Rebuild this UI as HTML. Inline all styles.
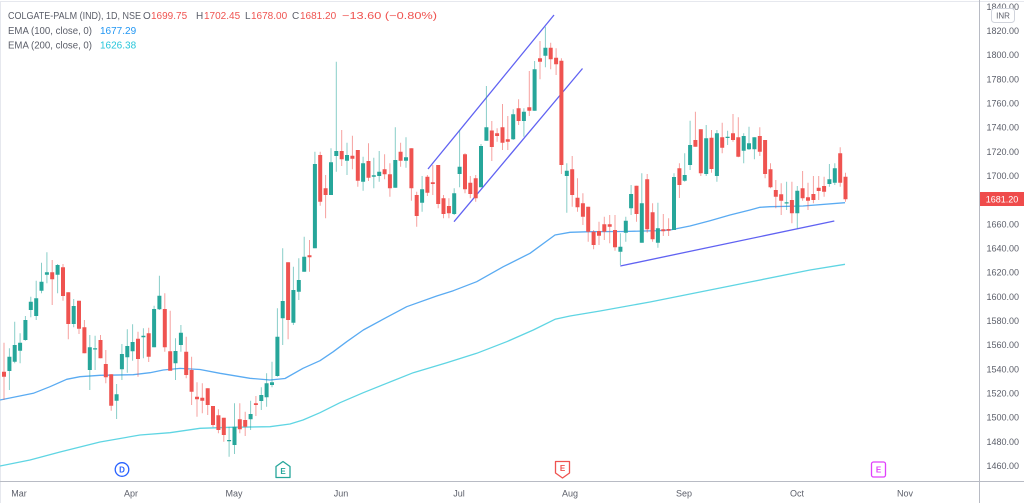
<!DOCTYPE html>
<html>
<head>
<meta charset="utf-8">
<style>
html,body{margin:0;padding:0;background:#fff;}
body{width:1024px;height:503px;overflow:hidden;}
svg{display:block;font-family:"Liberation Sans",Arial,sans-serif;}
</style>
</head>
<body>
<svg width="1024" height="503" viewBox="0 0 1024 503" xmlns="http://www.w3.org/2000/svg">
<rect x="0" y="0" width="1024" height="503" fill="#ffffff"/>
<!-- frame -->
<path d="M0.5 503V1.5H1024" fill="none" stroke="#e6e8ee" stroke-width="1"/>
<!-- axes -->
<path d="M979.5 0V503" stroke="#b8bbc4" stroke-width="1"/>
<path d="M0 481.5H1024" stroke="#b8bbc4" stroke-width="1"/>

<!-- EMA 200 -->
<polyline fill="none" stroke="#5fd5e3" stroke-width="1.3" stroke-linejoin="round" points="0,466 30,460 60,452 100,442 140,435 170,432.7 200,428.3 230,427.3 270,426.7 290,424 303,420 320,412.7 340,402.7 363.3,392.7 386.7,383.3 413.3,372.7 446.7,362.7 476.7,353.3 506.7,341.7 533.3,330 555,319.3 570,316 600,311 650,302 700,292 750,282 810,270 845,264.3"/>
<!-- EMA 100 -->
<polyline fill="none" stroke="#5aabf2" stroke-width="1.3" stroke-linejoin="round" points="0,400 33.3,393.3 50,386.7 66.7,379.3 80,376.7 100,375.3 133.3,374.7 150,372.7 163.3,370 180,368.4 200,369.5 220,373.3 250,378.3 270,380 285,378.5 303,368.3 320,360.7 333.3,351.7 346.7,341.7 363.3,330 386.7,317.3 406.7,306.7 436.7,296 453.3,290.7 476.7,281.7 503.3,266.7 530,253.3 555,235 570,232.3 590,231.7 623,231.5 656.7,230.7 670,230 690,226 710,220.7 730,215 750,210 760,207.3 770,206.7 803,206 845,202.7"/>

<!-- trend lines -->
<g stroke="#6062f2" stroke-width="1.3" fill="none">
<path d="M428 169L554 15"/>
<path d="M454 221.7L582.5 68.5"/>
<path d="M620.3 266L834.3 221"/>
</g>

<!-- green wicks -->
<path fill="none" stroke="#26a69a" stroke-opacity="0.55" stroke-width="1" d="M9.4 348.3V390M14.7 321.7V363.3M20.1 333.3V363.3M25.4 316V340.7M30.8 296.7V317.3M36.2 280.7V320M41.5 262.7V293.3M46.9 252.3V283.3M57.6 264V293.3M73.7 299V327.3M89.8 335V390M95.1 335.7V370M116.6 384V419M121.9 344V380M127.3 329.3V372.7M132.6 324.3V360.7M143.4 328.3V358.3M154.1 305.7V347.3M159.4 275.7V310M175.5 338.3V380M180.9 325V351.7M229.1 426.7V456.7M234.5 403.3V454M250.6 400.7V430M261.3 387.3V410M266.6 373.3V406.7M272 361.7V387.3M277.4 308.3V376.7M282.7 248.3V345M293.4 266.7V325M298.8 258.3V300M304.2 236.7V271.7M314.9 151.7V248.3M331 148.3V195M336.3 61.7V171.7M347 142.7V175M363.1 156.7V190.7M373.8 157.7V188.3M379.2 151V181.7M395.3 127.3V187.7M406 137.3V167.7M422.1 176V211.7M454.2 188.3V215M459.6 130V187.3M481 144V187.3M486.4 86V140.7M513.2 109.3V140M523.9 108.3V136.7M534.6 61V110.7M545.4 26.7V67.3M566.8 163.3V212.7M620.4 233.3V265M625.8 216.7V241.7M631.1 185V215M641.8 173.3V242.7M657.9 202.7V247.7M674 173.3V230M684.7 153.3V181.7M690.1 120.7V170M706.2 125V176M716.9 130V181.7M727.6 130.7V145M743.7 133.3V163.3M749 126.7V150M754.4 137.3V159.3M786.6 181.7V210M797.3 186V228.3M829.4 164V186.7M834.8 163.3V185"/>
<!-- red wicks -->
<path fill="none" stroke="#ef5350" stroke-opacity="0.55" stroke-width="1" d="M4 342.7V400M52.2 260V305M63 264V300.7M68.3 292.3V339.3M79 300.7V334M84.4 320V353.3M100.5 335V358.3M105.8 350V383.3M111.2 374.3V410.7M138 331.7V376.7M148.7 327.7V362M164.8 293.3V351.7M170.2 310.7V370M186.2 336.7V378.3M191.6 356.7V405M197 382.3V416.7M202.3 383.3V413.3M207.7 388.3V415M213 406V427.3M218.4 409.3V433.3M223.8 417.7V441.7M239.8 403.3V433.3M245.2 411.7V436M255.9 396V416M288.1 262.3V339.3M309.5 240V271.7M320.2 151.7V205.7M325.6 175V218.3M341.7 130V166M352.4 135.7V169.3M357.8 150V186.7M368.5 143.3V181M384.6 154.3V179.3M389.9 163.3V196.7M400.6 142.7V166.7M411.4 148.3V200.7M416.7 191.7V226.7M427.4 175V196M432.8 165V195M438.2 165V208.3M443.5 195V218.3M448.9 198.3V218.3M465 153.3V193.3M470.3 176V198.3M475.7 175V201.7M491.8 121V161M497.1 128.3V141.7M502.5 104V150M507.8 116V150M518.6 99.3V125M529.3 71V116M540 41V79.3M550.7 42.7V69.3M556.1 48.3V75M561.4 58.3V174M572.2 156V206.7M577.5 178.3V211.7M582.9 193.3V225M588.2 206.7V241.7M593.6 230V249.3M599 221.7V245M604.3 216.7V240M609.7 215V243.3M615 215V250.7M636.5 185.7V221.7M647.2 174V232.7M652.6 203.3V241.7M663.3 214V236M668.6 218.3V236M679.4 163.3V198M695.4 111.7V146.7M700.8 129.3V176M711.5 130V172.7M722.2 122.7V153.3M733 114V141.7M738.3 117.3V157.3M759.8 127.3V156M765.1 140V178.3M770.5 163.3V188.3M775.8 180V208.3M781.2 183.3V215M791.9 181.7V223.3M802.6 171V200.7M808 182.7V210M813.4 176V203.3M818.7 176V200M824.1 176.7V196.7M840.2 147.3V186.7M845.5 172.7V201.7"/>

<!-- green bodies -->
<path fill="#26a69a" d="M7.4 356.7h4V371h-4zM12.7 345h4V361.7h-4zM18.1 342.7h4V350.7h-4zM23.4 320h4V340h-4zM28.8 301.7h4V310h-4zM34.2 298.3h4V316h-4zM39.5 281.7h4V290.7h-4zM44.9 272.3h4V274.7h-4zM55.6 265h4V274.7h-4zM71.7 306h4V324h-4zM87.8 347.3h4V370h-4zM93.1 348.3h4V349.5h-4zM114.6 394.3h4V400.7h-4zM119.9 354h4V369.3h-4zM125.3 346h4V357.3h-4zM130.6 342h4V351.3h-4zM141.4 335.7h4V337.3h-4zM152.1 309h4V347.3h-4zM157.4 295.7h4V309.3h-4zM173.5 351h4V363.3h-4zM178.9 332.7h4V345h-4zM227.1 440h4V441.3h-4zM232.5 426.7h4V445h-4zM248.6 414h4V419.3h-4zM259.3 395h4V401h-4zM264.6 383.3h4V397.3h-4zM270 382.3h4V385h-4zM275.4 336.7h4V376h-4zM280.7 301h4V318.3h-4zM291.4 290h4V322.7h-4zM296.8 280h4V291.7h-4zM302.2 256.7h4V271.7h-4zM312.9 164h4V248.3h-4zM329 162.3h4V195h-4zM334.3 151h4V156h-4zM345 155h4V160.7h-4zM361.1 163.3h4V181.7h-4zM371.8 175.3h4V176.7h-4zM377.2 171.7h4V176h-4zM393.3 160h4V187.7h-4zM404 157.3h4V160.7h-4zM420.1 189.3h4V202.7h-4zM452.2 193.3h4V214h-4zM457.6 166.7h4V174h-4zM479 146h4V187.3h-4zM484.4 127.3h4V140.7h-4zM511.2 114.3h4V139.3h-4zM521.9 111.7h4V121h-4zM532.6 69.3h4V110.7h-4zM543.4 47.7h4V55.7h-4zM564.8 170.7h4V176h-4zM618.4 246.7h4V251.7h-4zM623.8 220.7h4V232.7h-4zM629.1 194h4V208.3h-4zM639.8 203.3h4V242.7h-4zM655.9 228.3h4V242.7h-4zM672 177h4V230h-4zM682.7 175h4V180.7h-4zM688.1 145h4V165h-4zM704.2 138.3h4V174h-4zM714.9 133.3h4V176h-4zM725.6 136.7h4V138h-4zM741.7 136h4V150.7h-4zM747 143.3h4V149.3h-4zM752.4 137.3h4V149.3h-4zM784.6 202.3h4V203.5h-4zM795.3 190.7h4V213.3h-4zM827.4 179.3h4V184h-4zM832.8 168.3h4V182.7h-4z"/>
<!-- red bodies -->
<path fill="#ef5350" d="M2 371.7h4V376.7h-4zM50.2 272.3h4V279.3h-4zM61 267.3h4V296h-4zM66.3 292.3h4V324h-4zM77 300.7h4V328.7h-4zM82.4 327.3h4V353.3h-4zM98.5 340h4V358.3h-4zM103.8 364h4V377.3h-4zM109.2 374.3h4V405.7h-4zM136 338.7h4V359h-4zM146.7 333.3h4V356.7h-4zM162.8 309h4V347.3h-4zM168.2 351.3h4V370.7h-4zM184.2 351.7h4V375h-4zM189.6 370h4V391.7h-4zM195 396.7h4V399.3h-4zM200.3 397.7h4V400.7h-4zM205.7 388.3h4V405h-4zM211 406h4V425h-4zM216.4 415.3h4V430h-4zM221.8 417.7h4V435h-4zM237.8 419.3h4V429.3h-4zM243.2 420h4V426.7h-4zM253.9 403.3h4V405h-4zM286.1 262.3h4V320h-4zM307.5 255.3h4V257.3h-4zM318.2 155h4V201.7h-4zM323.6 188.3h4V195h-4zM339.7 151h4V159.3h-4zM350.4 155.7h4V158.7h-4zM355.8 150h4V180.7h-4zM366.5 161h4V177.7h-4zM382.6 169.3h4V174.3h-4zM387.9 174.3h4V188.3h-4zM398.6 151.7h4V160.7h-4zM409.4 148.3h4V188.3h-4zM414.7 195h4V216h-4zM425.4 176.7h4V192.7h-4zM430.8 182.3h4V184h-4zM436.2 165h4V204h-4zM441.5 198.3h4V214h-4zM446.9 206h4V213.3h-4zM463 154.3h4V189.3h-4zM468.3 182.7h4V194h-4zM473.7 178.3h4V198.3h-4zM489.8 130.5h4V147h-4zM495.1 133.3h4V136h-4zM500.5 127.3h4V142.7h-4zM505.8 139.3h4V141.7h-4zM516.6 108.3h4V121h-4zM527.3 107.3h4V110.7h-4zM538 58.3h4V61.7h-4zM548.7 47.7h4V59.3h-4zM554.1 57.7h4V64.3h-4zM559.4 60.7h4V165h-4zM570.2 169.3h4V195h-4zM575.5 197.7h4V207.3h-4zM580.9 203.3h4V216.7h-4zM586.2 206.7h4V231.7h-4zM591.6 231.7h4V245h-4zM597 231h4V235.7h-4zM602.3 224.3h4V231.7h-4zM607.7 224.3h4V226.7h-4zM613 230h4V247.3h-4zM634.5 185.7h4V214h-4zM645.2 179.3h4V229.3h-4zM650.6 212.3h4V239.3h-4zM661.3 229.3h4V231.3h-4zM666.6 229h4V230.7h-4zM677.4 168.3h4V185h-4zM693.4 140h4V146.7h-4zM698.8 129.3h4V173.3h-4zM709.5 137.7h4V169h-4zM720.2 137.3h4V147.7h-4zM731 133.3h4V140h-4zM736.3 137.3h4V156.7h-4zM757.8 136h4V151.7h-4zM763.1 140h4V174h-4zM768.5 169.3h4V187.3h-4zM773.8 190h4V196.7h-4zM779.2 194.3h4V200.7h-4zM789.9 200h4V213.3h-4zM800.6 188.3h4V198.3h-4zM806 197.3h4V200.7h-4zM811.4 194h4V200h-4zM816.7 187.7h4V191h-4zM822.1 186h4V191.7h-4zM838.2 153.3h4V182.7h-4zM843.5 176.7h4V199.3h-4z"/>

<!-- legend -->
<g font-size="10" fill="#5b5e69">
<text x="8" y="19" textLength="133" lengthAdjust="spacingAndGlyphs">COLGATE-PALM (IND), 1D, NSE</text>
<text x="143" y="19">O</text><text x="151" y="19" fill="#ef5350">1699.75</text>
<text x="196" y="19">H</text><text x="204" y="19" fill="#ef5350">1702.45</text>
<text x="245" y="19">L</text><text x="251" y="19" fill="#ef5350">1678.00</text>
<text x="292" y="19">C</text><text x="300" y="19" fill="#ef5350">1681.20</text>
<text x="342" y="19" fill="#ef5350" textLength="95" lengthAdjust="spacingAndGlyphs">−13.60 (−0.80%)</text>
<text x="8" y="34" textLength="84" lengthAdjust="spacingAndGlyphs">EMA (100, close, 0)</text>
<text x="100" y="34" fill="#2196f3">1677.29</text>
<text x="8" y="48.5" textLength="84" lengthAdjust="spacingAndGlyphs">EMA (200, close, 0)</text>
<text x="100" y="48.5" fill="#26c6da">1626.38</text>
</g>

<!-- right axis labels -->
<g font-size="9" fill="#5b5e69" text-anchor="end">
<text x="1019" y="9.8">1840.00</text>
<text x="1019" y="34">1820.00</text>
<text x="1019" y="58.2">1800.00</text>
<text x="1019" y="82.3">1780.00</text>
<text x="1019" y="106.5">1760.00</text>
<text x="1019" y="130.7">1740.00</text>
<text x="1019" y="154.8">1720.00</text>
<text x="1019" y="179">1700.00</text>
<text x="1019" y="227.3">1660.00</text>
<text x="1019" y="251.5">1640.00</text>
<text x="1019" y="275.7">1620.00</text>
<text x="1019" y="299.8">1600.00</text>
<text x="1019" y="324">1580.00</text>
<text x="1019" y="348.2">1560.00</text>
<text x="1019" y="372.3">1540.00</text>
<text x="1019" y="396.5">1520.00</text>
<text x="1019" y="420.7">1500.00</text>
<text x="1019" y="444.8">1480.00</text>
<text x="1019" y="469">1460.00</text>
</g>
<!-- INR box -->
<rect x="991.5" y="8.5" width="23" height="14" rx="3" fill="#ffffff" stroke="#d1d4dc" stroke-width="1"/>
<text x="1003" y="18.5" font-size="8" fill="#5b5e69" text-anchor="middle">INR</text>
<!-- price label -->
<rect x="980" y="192" width="44" height="14" fill="#ef4b4b"/>
<text x="1002" y="202.3" font-size="9" fill="#ffffff" text-anchor="middle">1681.20</text>

<!-- month labels -->
<g font-size="9" fill="#5b5e69" text-anchor="middle">
<text x="19" y="496.5">Mar</text>
<text x="131" y="496.5">Apr</text>
<text x="234" y="496.5">May</text>
<text x="341" y="496.5">Jun</text>
<text x="459" y="496.5">Jul</text>
<text x="570" y="496.5">Aug</text>
<text x="684" y="496.5">Sep</text>
<text x="797" y="496.5">Oct</text>
<text x="905" y="496.5">Nov</text>
</g>

<!-- event markers -->
<g font-size="8" font-weight="bold" text-anchor="middle">
<circle cx="122" cy="469.5" r="6.8" fill="#fff" stroke="#2962ff" stroke-width="1.3"/>
<text x="122" y="472.5" fill="#2962ff">D</text>
<path d="M276 466.5L283 461.5L290 466.5V477.5H276Z" fill="#fff" stroke="#26a69a" stroke-width="1.3" stroke-linejoin="round"/>
<text x="283" y="474" fill="#26a69a">E</text>
<path d="M555.5 461.5H569.5V473L562.5 478L555.5 473Z" fill="#fff" stroke="#ef5350" stroke-width="1.3" stroke-linejoin="round"/>
<text x="562.5" y="471" fill="#ef5350">E</text>
<rect x="871.5" y="462" width="14" height="15" rx="2" fill="#fff" stroke="#e040fb" stroke-width="1.3"/>
<text x="878.5" y="472.5" fill="#e040fb">E</text>
</g>
</svg>
</body>
</html>
